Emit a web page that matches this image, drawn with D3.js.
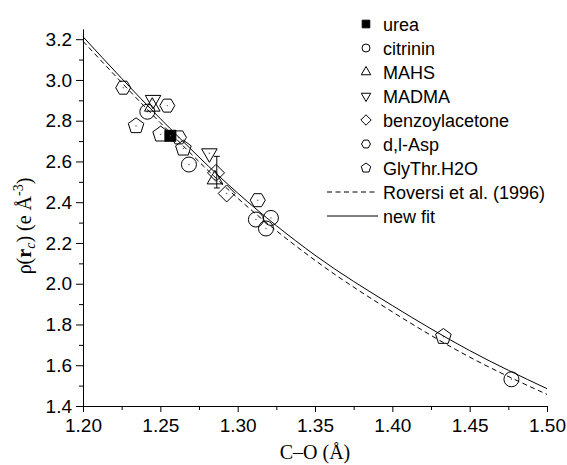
<!DOCTYPE html>
<html>
<head>
<meta charset="utf-8">
<script src="https://cdn.jsdelivr.net/npm/d3@7"></script>
<style>
  body { margin: 0; background: #fff; }
  svg { display: block; }
  .tick text { font-family: "Liberation Sans", Arial, sans-serif; font-size: 19px; fill: #000; }
  .legend text { font-family: "Liberation Sans", Arial, sans-serif; font-size: 18px; fill: #000; }
  .label { font-family: "Liberation Serif", "Times New Roman", serif; font-size: 20px; fill: #000; }
</style>
</head>
<body>
<svg id="chart" width="567" height="465"></svg>
<script>
// tick values
const xTicks = [1.20, 1.25, 1.30, 1.35, 1.40, 1.45, 1.50];
const yTicks = [1.4, 1.6, 1.8, 2.0, 2.2, 2.4, 2.6, 2.8, 3.0, 3.2];
const xMinor = [1.225, 1.275, 1.325, 1.375, 1.425, 1.475];
const yMinor = [1.5, 1.7, 1.9, 2.1, 2.3, 2.5, 2.7, 2.9, 3.1];

// measured points, [C-O, rho]
const urea = [[1.2565, 2.726]];
const citrinin = [[1.2416, 2.844], [1.2685, 2.585], [1.3118, 2.315], [1.3215, 2.323], [1.3183, 2.271], [1.477, 1.531]];
const mahs = [[1.2448, 2.869], [1.2853, 2.512]];
const madma = [[1.2453, 2.902], [1.2817, 2.640]];
const benzoylacetone = [[1.2860, 2.544], [1.2929, 2.443]];
const dlAsp = [[1.2260, 2.962], [1.2545, 2.874], [1.2620, 2.718], [1.3130, 2.410]];
const glyThr = [[1.2343, 2.774], [1.2502, 2.733], [1.2649, 2.664], [1.4330, 1.740]];
const errorBars = [[1.2865, 2.470, 2.625]];

// fitted curves
const fitX = [1.20, 1.25, 1.30, 1.35, 1.40, 1.45, 1.50];
const newFitY = [3.212, 2.810, 2.445, 2.140, 1.893, 1.672, 1.485];
const roversiY = [3.190, 2.790, 2.420, 2.115, 1.862, 1.640, 1.457];

const series = [
    {name: "urea", data: urea, shape: "square", filled: true},
    {name: "citrinin", data: citrinin, shape: "circle"},
    {name: "MAHS", data: mahs, shape: "up"},
    {name: "MADMA", data: madma, shape: "down"},
    {name: "benzoylacetone", data: benzoylacetone, shape: "diamond"},
    {name: "d,l-Asp", data: dlAsp, shape: "hexagon"},
    {name: "GlyThr.H2O", data: glyThr, shape: "pentagon"}
];

const plotSize = {circle: 7.5, square: 5.5, up: 9, down: 9, diamond: 8.5, hexagon: 7.5, pentagon: 8.2};
const legendSize = {circle: 4, square: 3.8, up: 5.5, down: 5.5, diamond: 5.2, hexagon: 4.5, pentagon: 5};

const margin = {top: 29, right: 20, bottom: 59, left: 83},
    width = 567 - margin.left - margin.right,
    height = 465 - margin.top - margin.bottom;

const svg = d3.select("#chart");
const g = svg.append("g")
    .attr("transform", "translate(" + margin.left + "," + margin.top + ")");

const x = d3.scaleLinear().domain([1.2, 1.5]).range([0, width]);
const y = d3.scaleLinear().domain([1.4, 3.25]).range([height, 0]);

function shapePath(type, r) {
    const p = d3.path();
    if (type == "circle") {
        p.arc(0, 0, r, 0, 2 * Math.PI);
        return p.toString();
    }
    if (type == "square") {
        p.rect(-r, -r, 2 * r, 2 * r);
        return p.toString();
    }
    const spec = {up: [3, -90], down: [3, 90], diamond: [4, -90], hexagon: [6, 0], pentagon: [5, -90]}[type];
    for (let i = 0; i < spec[0]; i++) {
        let a = (spec[1] + 360 * i / spec[0]) * Math.PI / 180;
        if (i == 0) p.moveTo(r * Math.cos(a), r * Math.sin(a));
        else p.lineTo(r * Math.cos(a), r * Math.sin(a));
    }
    p.closePath();
    return p.toString();
}

// axes
g.append("g")
    .attr("transform", "translate(0," + height + ")")
    .call(d3.axisBottom(x).tickValues(xTicks).tickFormat(d3.format(".2f"))
        .tickSize(6).tickPadding(7).tickSizeOuter(0));
g.append("g")
    .attr("transform", "translate(0," + height + ")")
    .call(d3.axisBottom(x).tickValues(xMinor).tickFormat("").tickSize(4).tickSizeOuter(0));
g.append("g")
    .call(d3.axisLeft(y).tickValues(yTicks).tickFormat(d3.format(".1f"))
        .tickSize(7).tickPadding(4).tickSizeOuter(0));
g.append("g")
    .call(d3.axisLeft(y).tickValues(yMinor).tickFormat("").tickSize(4).tickSizeOuter(0));
g.selectAll(".domain, .tick line").attr("stroke", "#000").attr("stroke-width", 1);

// markers
series.forEach(function (s) {
    let pts = g.append("g").selectAll("g").data(s.data).enter().append("g")
        .attr("transform", d => "translate(" + x(d[0]) + "," + y(d[1]) + ")");
    pts.append("path")
        .attr("d", shapePath(s.shape, plotSize[s.shape]))
        .attr("fill", s.filled ? "#000" : "none")
        .attr("stroke", "#000")
        .attr("stroke-width", 1);
    pts.append("circle").attr("r", 0.7).attr("fill", "#555");
});

// error bars
errorBars.forEach(function (e) {
    let eb = g.append("g").attr("stroke", "#000").attr("stroke-width", 1);
    eb.append("line").attr("x1", x(e[0])).attr("x2", x(e[0])).attr("y1", y(e[1])).attr("y2", y(e[2]));
    eb.append("line").attr("x1", x(e[0]) - 3).attr("x2", x(e[0]) + 3).attr("y1", y(e[1])).attr("y2", y(e[1]));
    eb.append("line").attr("x1", x(e[0]) - 3).attr("x2", x(e[0]) + 3).attr("y1", y(e[2])).attr("y2", y(e[2]));
});

// fit curves
const line = d3.line().x(d => x(d[0])).y(d => y(d[1])).curve(d3.curveMonotoneX);
g.append("path")
    .datum(fitX.map((v, i) => [v, roversiY[i]]))
    .attr("d", line)
    .attr("fill", "none").attr("stroke", "#000").attr("stroke-width", 1)
    .attr("stroke-dasharray", "5,3.5");
g.append("path")
    .datum(fitX.map((v, i) => [v, newFitY[i]]))
    .attr("d", line)
    .attr("fill", "none").attr("stroke", "#000").attr("stroke-width", 1);

// legend
const legend = svg.append("g").attr("class", "legend");
const rowY = 24, rowStep = 24;
series.forEach(function (s, i) {
    let row = legend.append("g").attr("transform", "translate(366," + (rowY + i * rowStep) + ")");
    row.append("path")
        .attr("d", shapePath(s.shape, legendSize[s.shape]))
        .attr("fill", s.filled ? "#000" : "none")
        .attr("stroke", "#000").attr("stroke-width", 1);
    row.append("text").attr("x", 17).attr("dy", "0.37em").text(s.name);
});
[["Roversi et al. (1996)", "5,3.5"], ["new fit", null]].forEach(function (l, j) {
    let yy = rowY + (series.length + j) * rowStep;
    let row = legend.append("g").attr("transform", "translate(0," + yy + ")");
    row.append("line").attr("x1", 327).attr("x2", 378).attr("y1", 0).attr("y2", 0)
        .attr("stroke", "#000").attr("stroke-width", 1)
        .attr("stroke-dasharray", l[1]);
    row.append("text").attr("x", 383).attr("dy", "0.37em").text(l[0]);
});

// axis titles
svg.append("text").attr("class", "label")
    .attr("x", margin.left + width / 2).attr("y", 459)
    .attr("text-anchor", "middle")
    .text("C\u2013O (\u00C5)");

const yl = svg.append("text").attr("class", "label")
    .attr("transform", "translate(31,226) rotate(-90)")
    .attr("text-anchor", "middle");
yl.append("tspan").text("\u03C1(");
yl.append("tspan").attr("font-weight", "bold").text("r");
yl.append("tspan").attr("font-style", "italic").attr("font-size", "14px").attr("dy", 4).text("c");
yl.append("tspan").attr("dy", -4).text(") (e \u00C5");
yl.append("tspan").attr("font-size", "14px").attr("dy", -8).text("-3");
yl.append("tspan").attr("dy", 8).text(")");
</script>
</body>
</html>
